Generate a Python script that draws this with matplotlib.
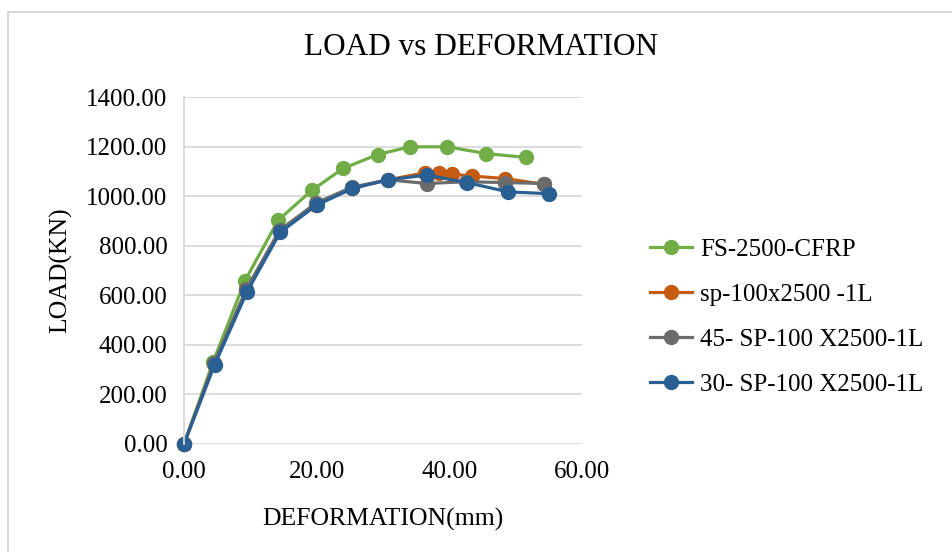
import matplotlib
matplotlib.use('Agg')
import matplotlib.pyplot as plt
from matplotlib.patches import Rectangle

plt.rcParams['font.family'] = ['Liberation Serif', 'DejaVu Serif']

# 数据
fs_x = [0, 4.4, 9.2, 14.2, 19.3, 24.0, 29.2, 34.1, 39.7, 45.5, 51.6]
fs_y = [0, 332, 659, 903, 1024, 1112, 1168, 1199, 1199, 1172, 1156]

sp_x = [0, 4.5, 9.4, 14.4, 19.9, 25.3, 30.8, 36.3, 38.4, 40.4, 43.4, 48.4, 54.2]
sp_y = [0, 322, 620, 858, 966, 1033, 1066, 1094, 1094, 1089, 1081, 1071, 1048]

sp45_x = [0, 4.5, 9.4, 14.4, 19.9, 25.3, 30.8, 36.6, 42.5, 48.4, 54.3]
sp45_y = [0, 325, 625, 862, 972, 1036, 1066, 1051, 1058, 1055, 1051]

sp30_x = [0, 4.6, 9.5, 14.5, 20.0, 25.4, 30.8, 36.6, 42.6, 48.9, 55.0]
sp30_y = [0, 319, 614, 854, 964, 1031, 1066, 1085, 1055, 1017, 1010]

labels = ['FS-2500-CFRP', 'sp-100x2500 -1L', '45- SP-100 X2500-1L', '30- SP-100 X2500-1L']
colors = ['#70AD47', '#C55A11', '#6B6B6B', '#2A5F93']

fig = plt.figure(figsize=(9.53, 5.52), dpi=100)
ax = fig.add_axes([184/953, 1-444/552, (582-184)/953, (444-97)/552])

series = [(fs_x, fs_y), (sp_x, sp_y), (sp45_x, sp45_y), (sp30_x, sp30_y)]
for (x, y), lab, c in zip(series, labels, colors):
    ax.plot(x, y, color=c, lw=2.3, marker='o', ms=10, label=lab, clip_on=False)

ax.set_xlim(0, 60)
ax.set_ylim(0, 1400)
ax.set_xticks([0, 20, 40, 60])
ax.set_yticks(range(0, 1401, 200))
ax.xaxis.set_major_formatter(lambda v, p: '%.2f' % v)
ax.yaxis.set_major_formatter(lambda v, p: '%.2f' % v)
ax.tick_params(length=0, labelsize=18, pad=12)
ax.grid(axis='y', color='#D9D9D9', lw=1.3)
ax.set_axisbelow(True)
for s in ['top', 'right', 'bottom']:
    ax.spines[s].set_visible(False)
ax.spines['left'].set_color('#D9D9D9')
ax.spines['left'].set_linewidth(1.3)

ax.set_xlabel('DEFORMATION(mm)', fontsize=18.5, labelpad=18)
ax.set_ylabel('LOAD(KN)', fontsize=18.5, labelpad=10)
fig.text(481/953, 1-48/552, 'LOAD vs DEFORMATION', fontsize=22.5, ha='center', va='center')

ax.legend(loc='center left', bbox_to_anchor=(650/953, 1-317/552), bbox_transform=fig.transFigure,
          frameon=False, fontsize=18, handlelength=1.7, labelspacing=0.9, handletextpad=0.3,
          borderpad=0, borderaxespad=0)

# 外框
fig.patches.append(Rectangle((8/953, -0.1), 1.2, 1-12/552+0.1, transform=fig.transFigure,
                             fill=False, edgecolor='#D9D9D9', lw=1.5))

fig.savefig('out.png', dpi=100)
